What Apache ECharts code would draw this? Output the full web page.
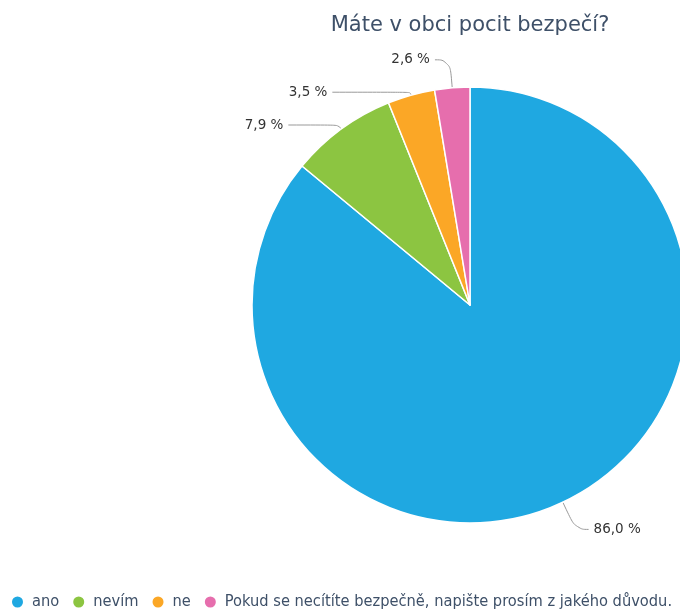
<!DOCTYPE html>
<html><head><meta charset="utf-8">
<script src="https://cdn.jsdelivr.net/npm/echarts@6/dist/echarts.min.js"></script>
<style>html,body{margin:0;padding:0;background:#fff}#c{width:680px;height:610px}</style>
</head><body><div id="c"></div>
<script>
var categories = ["ano", "nevím", "ne", "Pokud se necítíte bezpečně, napište prosím z jakého důvodu."];
var values = [86.0, 7.9, 3.5, 2.6];
var colors = ["#1fa8e1", "#8cc541", "#fba726", "#e66ead"];
var lineLen = [30, 5, 3, 28];
var lineLen2 = [13, 50, 78, 15];
var chart = echarts.init(document.getElementById('c'));
chart.setOption({
  animation: false,
  color: colors,
  title: {
    text: "Máte v obci pocit bezpečí?",
    left: 465, textAlign: 'center', top: 10,
    textStyle: {fontFamily: 'DejaVu Sans', fontSize: 21, fontWeight: 'normal', color: '#3e5068'}
  },
  legend: {
    left: 10, bottom: 0, padding: 0, icon: 'circle', itemWidth: 13, itemHeight: 13, itemGap: 12,
    textStyle: {fontFamily: 'DejaVu Sans Condensed', fontSize: 16.3, color: '#3e5068', padding: [0, 0, 0, 3]},
    data: categories
  },
  series: [{
    type: 'pie',
    center: [470, 305],
    radius: [0, 218],
    startAngle: 90,
    clockwise: true,
    itemStyle: {borderColor: '#fff', borderWidth: 1.5},
    label: {
      fontFamily: 'DejaVu Sans', fontSize: 13.5, color: '#333',
      formatter: function(p){ return p.value.toFixed(1).replace('.', ',') + ' %'; }
    },
    labelLine: {smooth: 0.5, lineStyle: {color: '#999'}},
    data: categories.map(function(c, i){
      return {name: c, value: values[i], labelLine: {length: lineLen[i], length2: lineLen2[i]}};
    })
  }]
});
</script></body></html>
